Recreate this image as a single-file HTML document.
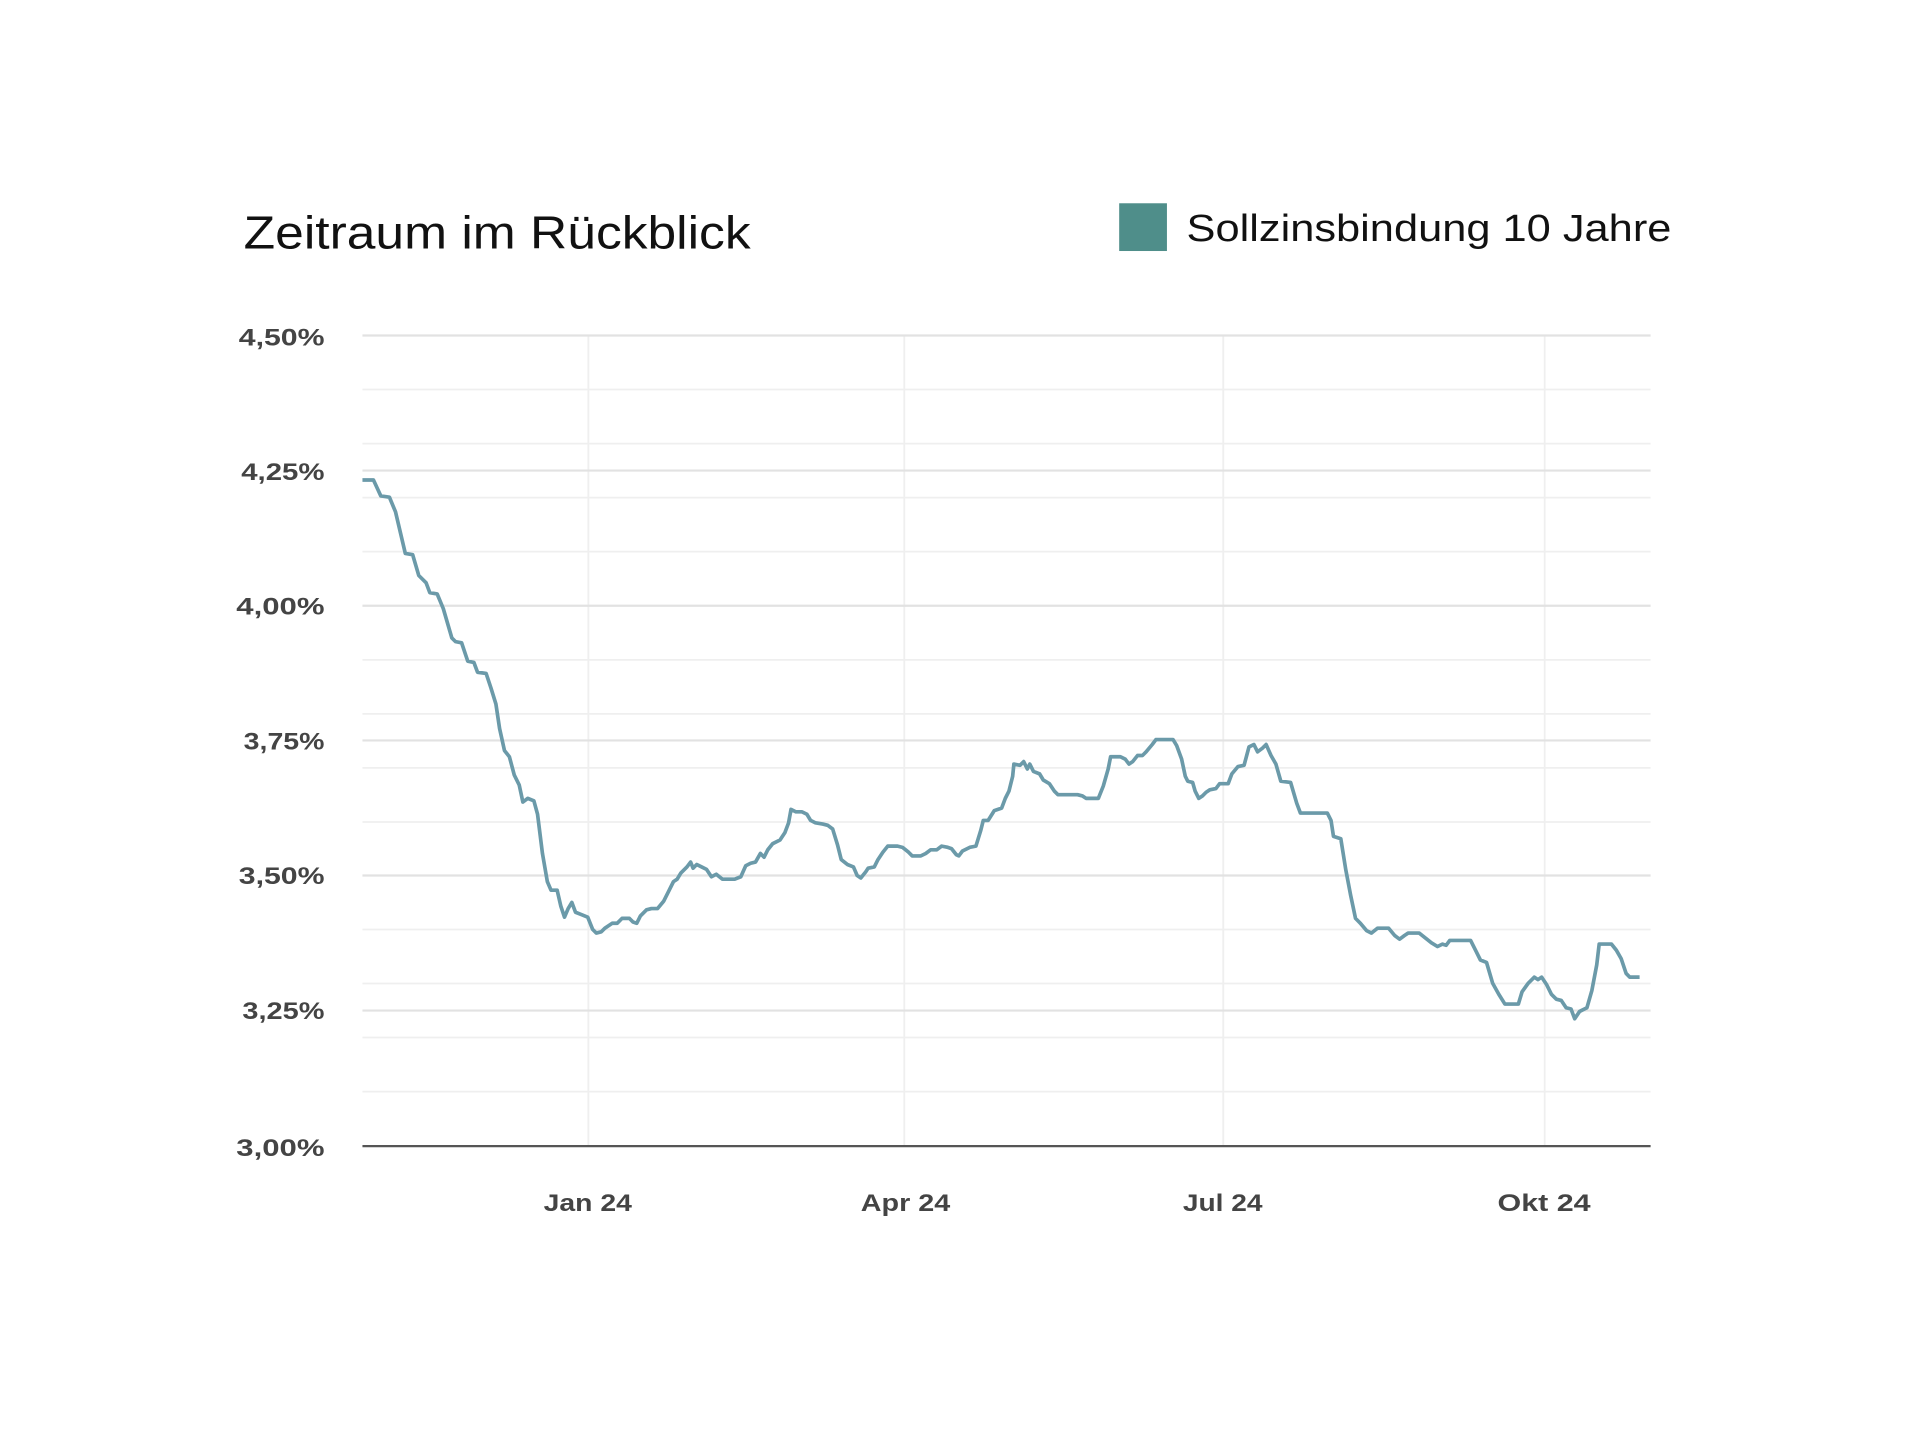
<!DOCTYPE html>
<html><head><meta charset="utf-8"><style>html,body{margin:0;padding:0;background:#fff}svg{display:block}</style></head>
<body>
<svg width="1920" height="1440" viewBox="0 0 1568 1176" xmlns="http://www.w3.org/2000/svg">
<rect width="1568" height="1176" fill="#fff"/>
<text x="199" y="203" font-family="Liberation Sans, sans-serif" font-size="38" fill="#111" textLength="414" lengthAdjust="spacingAndGlyphs">Zeitraum im Rückblick</text>
<rect x="914" y="166" width="39" height="39" fill="#4f8e8a"/>
<text x="969" y="197" font-family="Liberation Sans, sans-serif" font-size="31" fill="#111" textLength="396" lengthAdjust="spacingAndGlyphs">Sollzinsbindung 10 Jahre</text>
<g stroke="#efefef" stroke-width="1.5">
<line x1="296" x2="1348" y1="318.1" y2="318.1"/><line x1="296" x2="1348" y1="362.3" y2="362.3"/><line x1="296" x2="1348" y1="406.4" y2="406.4"/><line x1="296" x2="1348" y1="450.5" y2="450.5"/><line x1="296" x2="1348" y1="538.9" y2="538.9"/><line x1="296" x2="1348" y1="583" y2="583"/><line x1="296" x2="1348" y1="627.1" y2="627.1"/><line x1="296" x2="1348" y1="671.3" y2="671.3"/><line x1="296" x2="1348" y1="759.1" y2="759.1"/><line x1="296" x2="1348" y1="803.2" y2="803.2"/><line x1="296" x2="1348" y1="847.3" y2="847.3"/><line x1="296" x2="1348" y1="891.5" y2="891.5"/>
<line x1="480.5" x2="480.5" y1="274" y2="936"/><line x1="738.5" x2="738.5" y1="274" y2="936"/><line x1="999" x2="999" y1="274" y2="936"/><line x1="1261.5" x2="1261.5" y1="274" y2="936"/>
</g>
<g stroke="#e2e2e2" stroke-width="1.8">
<line x1="296" x2="1348" y1="274" y2="274"/><line x1="296" x2="1348" y1="384.3" y2="384.3"/><line x1="296" x2="1348" y1="494.7" y2="494.7"/><line x1="296" x2="1348" y1="604.7" y2="604.7"/><line x1="296" x2="1348" y1="715" y2="715"/><line x1="296" x2="1348" y1="825.3" y2="825.3"/>
</g>
<line x1="296" x2="1348" y1="936" y2="936" stroke="#555" stroke-width="1.8"/>
<g font-family="Liberation Sans, sans-serif" font-size="20" font-weight="bold" fill="#444">
<text x="195" y="282" textLength="70" lengthAdjust="spacingAndGlyphs">4,50%</text><text x="197" y="392" textLength="68" lengthAdjust="spacingAndGlyphs">4,25%</text><text x="193" y="502" textLength="72" lengthAdjust="spacingAndGlyphs">4,00%</text><text x="199" y="612" textLength="66" lengthAdjust="spacingAndGlyphs">3,75%</text><text x="195" y="722" textLength="70" lengthAdjust="spacingAndGlyphs">3,50%</text><text x="198" y="832" textLength="67" lengthAdjust="spacingAndGlyphs">3,25%</text><text x="193" y="944" textLength="72" lengthAdjust="spacingAndGlyphs">3,00%</text>
<text x="444" y="989" textLength="72" lengthAdjust="spacingAndGlyphs">Jan 24</text><text x="703" y="989" textLength="73" lengthAdjust="spacingAndGlyphs">Apr 24</text><text x="966" y="989" textLength="65" lengthAdjust="spacingAndGlyphs">Jul 24</text><text x="1223" y="989" textLength="76" lengthAdjust="spacingAndGlyphs">Okt 24</text>
</g>
<polyline fill="none" stroke="#6b9aa9" stroke-width="3" stroke-linejoin="round" points="296,392 305,392 311,405 318,406 323,418 331,452 337,453 342,470 348,476 351,484 357,485 362,497 369,521 372,524 377,525 382,540 387,541 390,549 397,550 401,562 405,575 408,595 412,613 416,618 420,633 424,641 427,655 431,652 436,654 439,665 443,697 447,720 450,727 455,727 458,740 461,749 464,742 467,737 470,745 475,747 480,749 484,759 487,762 491,761 494,758 500,754 504,754 508,750 514,750 517,753 520,754 523,748 528,743 532,742 537,742 542,736 546,728 550,720 553,718 556,713 561,708 564,704 566,709 569,706 573,708 577,710 581,716 585,714 590,718 600,718 605,716 609,707 613,705 617,704 621,697 624,700 627,694 631,689 637,686 641,680 644,672 646,661 650,663 655,663 659,665 662,670 666,672 672,673 676,674 680,677 684,690 687,702 692,706 697,708 700,715 703,717 707,712 709,709 714,708 717,702 721,696 725,691 733,691 737,692 742,696 745,699 752,699 756,697 760,694 765,694 769,691 774,692 777,693 781,698 783,699 786,695 792,692 797,691 801,678 803,670 807,670 812,662 818,660 821,652 824,646 827,634 828,624 833,625 836,622 839,628 841,624 844,630 849,632 852,637 857,640 861,646 864,649 880,649 884,650 887,652 897,652 901,642 905,628 907,618 915,618 919,620 922,624 925,622 929,617 933,617 936,614 941,608 944,604 958,604 961,609 965,620 968,634 970,638 974,639 976,646 979,652 982,650 985,647 988,645 993,644 996,640 1003,640 1006,632 1011,626 1016,625 1020,610 1024,608 1027,614 1031,611 1034,608 1038,617 1042,624 1046,638 1054,639 1059,656 1062,664 1084,664 1087,670 1089,683 1095,685 1099,710 1103,731 1107,750 1111,754 1116,760 1120,762 1125,758 1134,758 1139,764 1143,767 1147,764 1150,762 1159,762 1164,766 1169,770 1174,773 1178,771 1181,772 1184,768 1189,768 1201,768 1205,776 1209,784 1214,786 1219,803 1224,812 1229,820 1240,820 1243,810 1248,803 1253,798 1256,800 1259,798 1263,804 1267,812 1271,816 1275,817 1279,823 1283,824 1286,832 1290,826 1296,823 1300,809 1304,788 1306,771 1316,771 1320,776 1324,783 1328,795 1331,798 1339,798"/>
</svg>
</body></html>
